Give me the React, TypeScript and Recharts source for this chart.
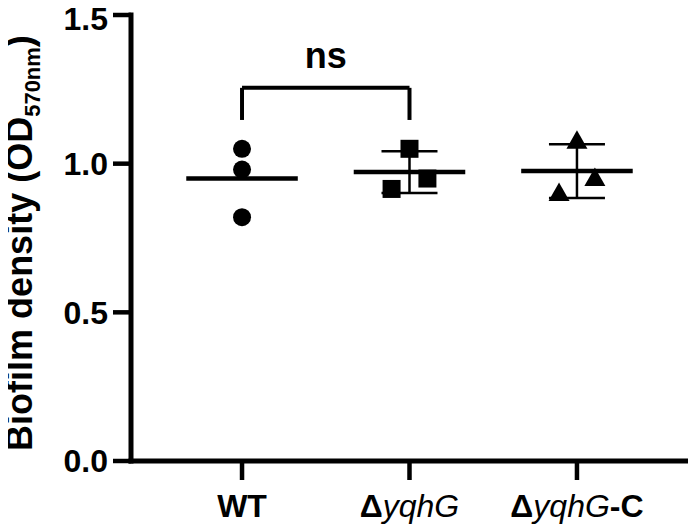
import { ScatterChart, Scatter, XAxis, YAxis, ErrorBar, ReferenceLine, Label } from "recharts"

const FONT = "'Liberation Sans', Arial, Helvetica, sans-serif"

// OD570 readings, three replicates per strain
const groups = ["WT", "ΔyqhG", "ΔyqhG-C"]
const wtOD = [1.05, 0.98, 0.82]
const yqhGOD = [1.05, 0.95, 0.915]
const yqhGCompOD = [1.075, 0.95, 0.9]

// horizontal spread of replicate markers (category units)
const wtJitter = [0, 0, 0]
const spreadJitter = [0, 0.107, -0.107]

const yTicks = [0, 0.5, 1.0, 1.5]

// WT vs ΔyqhG comparison bracket
const nsBracket = { from: 1, to: 2, top: 1.255, foot: 1.147, text: "ns" }

const mean = (v: number[]) => v.reduce((a, b) => a + b, 0) / v.length
const sd = (v: number[]) => {
  const m = mean(v)
  return Math.sqrt(v.reduce((a, b) => a + (b - m) ** 2, 0) / (v.length - 1))
}

const points = (values: number[], pos: number, jitter: number[]) =>
  values.map((y, i) => ({ x: pos + jitter[i], y }))

const HALF = 0.333
const summary = [
  { x: 1, y: mean(wtOD), half: HALF, sd: 0 }, // WT plotted with mean only
  { x: 2, y: mean(yqhGOD), half: HALF, sd: sd(yqhGOD) },
  { x: 3, y: mean(yqhGCompOD), half: HALF, sd: sd(yqhGCompOD) },
]

const Dot = (p: any) => <circle cx={p.cx} cy={p.cy} r={9} fill="#000" />
const Square = (p: any) => <rect x={p.cx - 9} y={p.cy - 9} width={18} height={18} fill="#000" />
const Triangle = (p: any) => (
  <path d={`M${p.cx},${p.cy - 11} L${p.cx + 10.5},${p.cy + 7.5} L${p.cx - 10.5},${p.cy + 7.5} Z`} fill="#000" />
)
const Hidden = () => <g />

// Δ and trailing suffix bold, gene name italic
function labelParts(label: string) {
  const m = label.match(/^(Δ)(\w+)(.*)$/)
  if (!m) return <tspan fontWeight={700}>{label}</tspan>
  return (
    <>
      <tspan fontWeight={700}>{m[1]}</tspan>
      <tspan fontStyle="italic" fontWeight={400}>{m[2]}</tspan>
      <tspan fontWeight={700}>{m[3]}</tspan>
    </>
  )
}

const GroupTick = (props: any) => {
  const { x, y, payload } = props
  const label = groups[payload.value - 1]
  return (
    <text x={x} y={y + 35} textAnchor="middle" fontFamily={FONT} fontSize={32} fill="#000">
      {labelParts(label)}
    </text>
  )
}

const YTitle = () => (
  <text
    x={32}
    y={243}
    transform="rotate(-90 32 243)"
    textAnchor="middle"
    fontFamily={FONT}
    fontSize={36}
    fontWeight={700}
    fill="#000"
  >
    Biofilm density (OD
    <tspan fontSize={22} dy={8}>570nm</tspan>
    <tspan dy={-8}>)</tspan>
  </text>
)

const axisLine = { stroke: "#000", strokeWidth: 5, strokeLinecap: "square" as const }
const tickLine = { stroke: "#000", strokeWidth: 4.5 }

export default function App() {
  return (
    <div style={{ margin: "-8px 0 0 -8px", width: 696, height: 526, background: "#fff" }}>
      <ScatterChart width={696} height={526} margin={{ top: 15, right: 6, bottom: 0, left: 0 }}>
        <XAxis
          type="number"
          dataKey="x"
          domain={[0.337, 3.675]}
          ticks={[1, 2, 3]}
          interval={0}
          height={65}
          tickSize={19}
          axisLine={axisLine}
          tickLine={tickLine}
          tick={<GroupTick />}
        />
        <YAxis
          type="number"
          dataKey="y"
          domain={[0, 1.5]}
          ticks={yTicks}
          width={131}
          tickSize={18}
          tickMargin={5}
          axisLine={axisLine}
          tickLine={tickLine}
          tickFormatter={(v: number) => v.toFixed(1)}
          tick={{ fontSize: 32, fontWeight: 700, fill: "#000", fontFamily: FONT }}
        >
          <Label content={() => <YTitle />} />
        </YAxis>

        <ReferenceLine
          segment={[{ x: nsBracket.from, y: nsBracket.foot }, { x: nsBracket.from, y: nsBracket.top }]}
          stroke="#000"
          strokeWidth={4}
        />
        <ReferenceLine
          segment={[{ x: nsBracket.from, y: nsBracket.top }, { x: nsBracket.to, y: nsBracket.top }]}
          stroke="#000"
          strokeWidth={4}
        >
          <Label
            value={nsBracket.text}
            position="top"
            offset={20}
            fill="#000"
            fontSize={36}
            fontWeight={700}
            fontFamily={FONT}
          />
        </ReferenceLine>
        <ReferenceLine
          segment={[{ x: nsBracket.to, y: nsBracket.top }, { x: nsBracket.to, y: nsBracket.foot }]}
          stroke="#000"
          strokeWidth={4}
        />

        <Scatter data={points(wtOD, 1, wtJitter)} shape={Dot} isAnimationActive={false} />
        <Scatter data={points(yqhGOD, 2, spreadJitter)} shape={Square} isAnimationActive={false} />
        <Scatter data={points(yqhGCompOD, 3, spreadJitter)} shape={Triangle} isAnimationActive={false} />

        <Scatter data={summary} shape={Hidden} isAnimationActive={false}>
          <ErrorBar dataKey="half" direction="x" width={0} stroke="#000" strokeWidth={4.5} />
          <ErrorBar dataKey="sd" direction="y" width={28} stroke="#000" strokeWidth={2.5} />
        </Scatter>
      </ScatterChart>
    </div>
  )
}
